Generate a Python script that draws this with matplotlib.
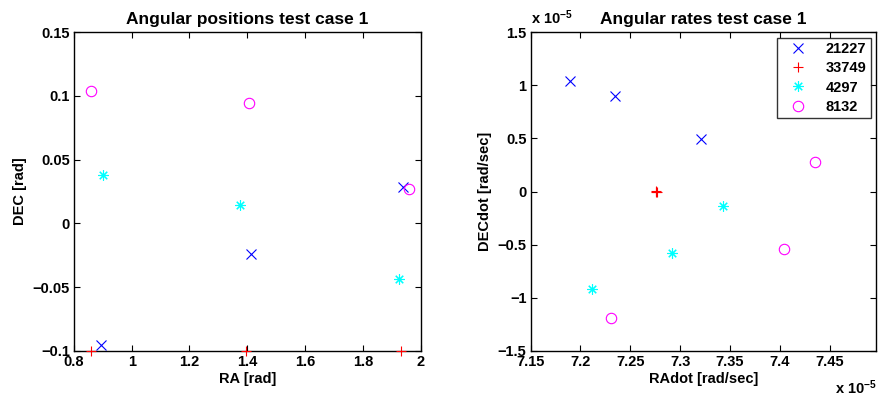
import matplotlib.pyplot as plt
import numpy as np

plt.rcParams['font.family'] = ['Liberation Sans', 'DejaVu Sans']
plt.rcParams['font.weight'] = 'bold'
plt.rcParams['mathtext.fontset'] = 'custom'
plt.rcParams['mathtext.rm'] = 'Liberation Sans:bold'
plt.rcParams['mathtext.default'] = 'rm'

# =========================
# DATA
# =========================
satellites = ["21227", "33749", "4297", "8132"]
markers = ["x", "+", (8, 2, 0), "o"]
colors = ["blue", "red", "cyan", "magenta"]

# angular positions [rad]
ra = [
    [1.938, 1.412, 0.893],
    [0.860, 1.395, 1.931],
    [0.900, 1.376, 1.925],
    [0.859, 1.405, 1.959],
]
dec = [
    [0.0285, -0.024, -0.095],
    [-0.100, -0.100, -0.100],
    [0.038, 0.0145, -0.0435],
    [0.104, 0.0944, 0.0272],
]

# angular rates [rad/sec]
radot = [
    [7.189e-5, 7.235e-5, 7.321e-5],
    [7.2755e-5, 7.2760e-5, 7.2765e-5],
    [7.343e-5, 7.292e-5, 7.212e-5],
    [7.435e-5, 7.404e-5, 7.231e-5],
]
decdot = [
    [1.042e-5, 0.895e-5, 0.497e-5],
    [0.000e-5, 0.005e-5, 0.000e-5],
    [-0.136e-5, -0.581e-5, -0.920e-5],
    [0.275e-5, -0.537e-5, -1.190e-5],
]
scale = 1e-5

# =========================
# FIGURE
# =========================
fig = plt.figure(figsize=(8.8, 3.97), dpi=100)
ax1 = fig.add_axes([0.084, 0.116, 0.394, 0.803])
ax2 = fig.add_axes([0.603, 0.116, 0.393, 0.803])

fs = 10.5
fs_title = 12.5
for i, name in enumerate(satellites):
    kw = dict(linestyle="none", marker=markers[i], color=colors[i],
              markerfacecolor="none", markersize=7.5, markeredgewidth=0.8,
              clip_on=False, zorder=3)
    ax1.plot(ra[i], dec[i], **kw)
    ax2.plot(np.array(radot[i]) / scale, np.array(decdot[i]) / scale,
             label=name, **kw)

ax1.set_xlim(0.8, 2.0)
ax1.set_ylim(-0.1, 0.15)
ax1.set_xticks(np.arange(0.8, 2.01, 0.2))
ax1.set_xticklabels(["0.8", "1", "1.2", "1.4", "1.6", "1.8", "2"])
ax1.set_yticks(np.arange(-0.1, 0.151, 0.05))
ax1.set_yticklabels(["\u22120.1", "\u22120.05", "0", "0.05", "0.1", "0.15"])
ax1.set_title("Angular positions test case 1", fontsize=fs_title, fontweight="bold", pad=6)
ax1.set_xlabel("RA [rad]", fontsize=fs, fontweight="bold", labelpad=2)
ax1.set_ylabel("DEC [rad]", fontsize=fs, fontweight="bold", labelpad=4)

ax2.set_xlim(7.15, 7.497)
ax2.set_ylim(-1.5, 1.5)
ax2.set_xticks([7.15, 7.2, 7.25, 7.3, 7.35, 7.4, 7.45])
ax2.set_xticklabels(["7.15", "7.2", "7.25", "7.3", "7.35", "7.4", "7.45"])
ax2.set_yticks(np.arange(-1.5, 1.51, 0.5))
ax2.set_yticklabels(["\u22121.5", "\u22121", "\u22120.5", "0", "0.5", "1", "1.5"])
ax2.set_title("Angular rates test case 1", fontsize=fs_title, fontweight="bold", pad=6)
ax2.set_xlabel("RAdot [rad/sec]", fontsize=fs, fontweight="bold", labelpad=2)
ax2.set_ylabel("DECdot [rad/sec]", fontsize=fs, fontweight="bold", labelpad=4)

# multiplier labels (MATLAB style)
ax2.text(0.0, 1.015, r"x 10$^{-5}$", transform=ax2.transAxes, fontsize=fs,
         fontweight="bold", ha="left", va="bottom")
ax2.text(1.0, -0.085, r"x 10$^{-5}$", transform=ax2.transAxes, fontsize=fs,
         fontweight="bold", ha="right", va="top")

for ax in (ax1, ax2):
    ax.tick_params(direction="in", top=True, right=True, length=4,
                   width=0.8, labelsize=fs, pad=3)
    for lbl in ax.get_xticklabels() + ax.get_yticklabels():
        lbl.set_fontweight("bold")
    for sp in ax.spines.values():
        sp.set_linewidth(1.0)

leg = ax2.legend(loc="upper right", fontsize=fs, frameon=True, fancybox=False,
                 edgecolor="black", borderaxespad=0.4, handletextpad=0.8,
                 labelspacing=0.35, borderpad=0.3, handlelength=2.2)
leg.get_frame().set_linewidth(1.0)
for t in leg.get_texts():
    t.set_fontweight("bold")

fig.savefig("out.png", dpi=100)
